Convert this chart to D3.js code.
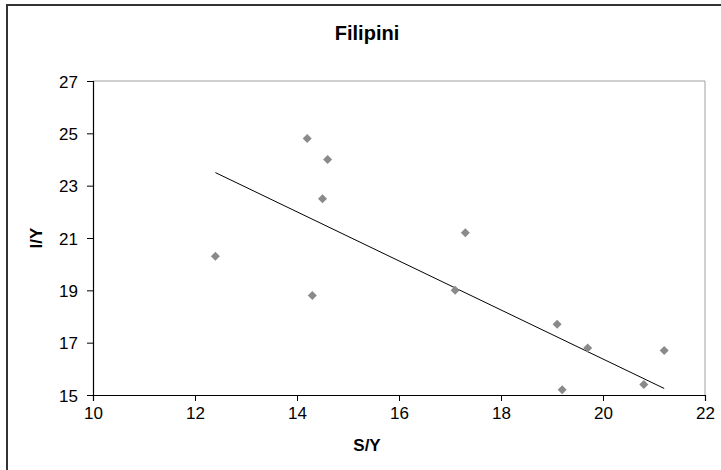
<!DOCTYPE html>
<html>
<head>
<meta charset="utf-8">
<script src="https://cdn.jsdelivr.net/npm/d3@7"></script>
<style>
  html, body { margin: 0; padding: 0; background: #fff; }
  svg { display: block; }
  text { font-family: "Liberation Sans", Arial, sans-serif; fill: #000; }
</style>
</head>
<body>
<svg id="chart" width="721" height="470"></svg>
<script>
// Data
const sy = [12.4, 14.2, 14.6, 14.5, 14.3, 17.3, 17.1, 19.1, 19.7, 19.2, 20.8, 21.2];
const iy = [20.3, 24.8, 24.0, 22.5, 18.8, 21.2, 19.0, 17.7, 16.8, 15.2, 15.4, 16.7];
const trendX = [12.4, 21.2];
const trendY = [23.5, 15.25];
const xTicks = [10, 12, 14, 16, 18, 20, 22];
const yTicks = [15, 17, 19, 21, 23, 25, 27];
const title = "Filipini";
const xTitle = "S/Y";
const yTitle = "I/Y";

const svg = d3.select("#chart");
const pLeft = 93, pRight = 705, pTop = 81, pBottom = 395;

// outer chart border (extends beyond the visible area on right and bottom)
svg.append("path")
  .attr("d", `M7,480 L7,5 L730,5`)
  .attr("fill", "none").attr("stroke", "#333").attr("stroke-width", 2);

const x = d3.scaleLinear().domain([10, 22]).range([pLeft, pRight]);
const y = d3.scaleLinear().domain([15, 27]).range([pBottom, pTop]);

// plot frame top and right (gray)
svg.append("path")
  .attr("d", `M${pLeft},${pTop} L${pRight},${pTop} L${pRight},${pBottom}`)
  .attr("fill", "none").attr("stroke", "#a0a0a0").attr("stroke-width", 1);

// axes
const xAxis = svg.append("g").attr("transform", `translate(0,${pBottom})`)
  .call(d3.axisBottom(x).tickValues(xTicks).tickSize(6).tickPadding(6).tickFormat(d3.format("d")));
const yAxis = svg.append("g").attr("transform", `translate(${pLeft},0)`)
  .call(d3.axisLeft(y).tickValues(yTicks).tickSize(6).tickPadding(9).tickFormat(d3.format("d")));
[xAxis, yAxis].forEach(g => {
  g.select(".domain").attr("stroke", "#000").attr("stroke-width", 1.2);
  g.selectAll(".tick line").attr("stroke", "#000");
  g.selectAll(".tick text").attr("font-size", 17).attr("font-family", "Liberation Sans, Arial, sans-serif").attr("fill", "#111");
});
yAxis.selectAll(".tick text").attr("dy", "0.36em");

// trend line
svg.append("line")
  .attr("x1", x(trendX[0])).attr("y1", y(trendY[0]))
  .attr("x2", x(trendX[1])).attr("y2", y(trendY[1]))
  .attr("stroke", "#000").attr("stroke-width", 1);

// points (diamonds)
const pts = sy.map((v, i) => ({ x: v, y: iy[i] }));
svg.append("g").selectAll("path").data(pts).enter().append("path")
  .attr("transform", d => `translate(${x(d.x)},${y(d.y)})`)
  .attr("d", "M0,-4.5 L4.5,0 L0,4.5 L-4.5,0 Z")
  .attr("fill", "#8a8a8a");

// titles
svg.append("text").attr("x", 367).attr("y", 40).attr("text-anchor", "middle")
  .attr("font-size", 20).attr("font-weight", "bold").text(title);
svg.append("text").attr("x", 367).attr("y", 451).attr("text-anchor", "middle")
  .attr("font-size", 17).attr("font-weight", "bold").text(xTitle);
svg.append("text").attr("transform", `translate(42,${(pTop + pBottom) / 2}) rotate(-90)`)
  .attr("text-anchor", "middle").attr("font-size", 17).attr("font-weight", "bold").text(yTitle);
</script>
</body>
</html>
